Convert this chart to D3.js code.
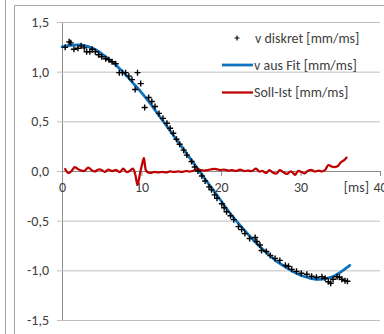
<!DOCTYPE html>
<html><head><meta charset="utf-8">
<script src="https://cdn.jsdelivr.net/npm/d3@7"></script>
<style>html,body{margin:0;padding:0;background:#fff;overflow:hidden}svg{display:block}</style>
</head><body>
<script>
// ---- data ----
const yTicks = [-1.5, -1.0, -0.5, 0.0, 0.5, 1.0, 1.5];
const xTicks = [0, 10, 20, 30, 40];
const xUnit = "[ms]";
const seriesNames = ["v diskret [mm/ms]", "v aus Fit [mm/ms]", "Soll-Ist [mm/ms]"];

// v diskret (measured points)
const tDiskret = [0.4,0.9,1.1,1.5,2.0,2.4,2.8,3.1,3.5,3.8,4.2,4.6,5.0,5.5,5.9,6.3,6.75,7.2,7.6,8.0,8.4,8.8,9.2,9.5,9.9,10.4,10.9,11.3,11.7,12.2,12.7,13.2,13.6,14.0,14.4,14.8,15.3,15.7,16.3,16.7,17.1,17.6,18.0,18.5,18.8,19.2,19.5,20.1,20.4,20.7,21.2,21.6,22.2,22.6,23.0,23.6,24.3,24.5,24.9,25.1,25.7,26.2,26.8,27.4,28.1,28.5,28.9,29.5,30.1,30.8,31.4,32.0,32.7,33.1,33.5,33.8,34.1,34.6,34.9,35.2,35.6,35.9];
const vDiskret = [1.245,1.30,1.29,1.225,1.235,1.26,1.24,1.20,1.20,1.225,1.20,1.17,1.15,1.13,1.12,1.10,1.08,0.99,0.99,0.99,0.955,0.92,0.82,0.99,0.88,0.64,0.74,0.70,0.65,0.58,0.53,0.48,0.43,0.38,0.32,0.27,0.21,0.16,0.095,0.04,0.0,-0.05,-0.10,-0.16,-0.19,-0.24,-0.275,-0.33,-0.37,-0.41,-0.45,-0.49,-0.56,-0.59,-0.63,-0.68,-0.67,-0.71,-0.745,-0.80,-0.81,-0.85,-0.88,-0.90,-0.95,-0.96,-0.99,-1.01,-1.03,-1.04,-1.06,-1.07,-1.065,-1.08,-1.115,-1.13,-1.09,-1.065,-1.07,-1.09,-1.105,-1.11];

// v aus Fit (fitted curve)
const tFit = [0,1,2,3,4,5,6,7,8,9,10,11,12,13,14,15,16,17,18,19,20,21,22,23,24,25,26,27,28,29,30,31,32,33,34,35,36.2];
const vFit = [1.25,1.265,1.27,1.26,1.23,1.18,1.12,1.05,0.97,0.88,0.79,0.69,0.58,0.47,0.36,0.25,0.14,0.03,-0.08,-0.19,-0.30,-0.41,-0.51,-0.60,-0.69,-0.77,-0.84,-0.91,-0.96,-1.01,-1.05,-1.075,-1.09,-1.085,-1.065,-1.02,-0.95];

// Soll-Ist (residual)
const tRes = [0.4,0.8,1.2,1.6,2.0,2.4,2.8,3.3,3.7,4.1,4.6,5.0,5.4,5.8,6.3,6.8,7.3,7.7,8.1,8.5,8.9,9.2,9.5,9.8,10.05,10.3,10.6,11.1,11.6,12.1,12.6,13.1,13.6,14.1,14.6,15.1,15.6,16.1,16.6,17.0,17.4,17.9,18.4,18.9,19.4,19.9,20.4,20.9,21.4,21.9,22.4,22.9,23.4,23.9,24.4,24.8,25.2,25.7,26.1,26.5,27.0,27.4,27.8,28.3,28.7,29.0,29.3,29.7,30.1,30.5,30.9,31.4,31.8,32.3,32.7,33.1,33.5,33.9,34.3,34.7,35.1,35.5,35.8];
const vRes = [0.02,-0.02,0.0,0.04,0.02,0.005,0.0,0.035,0.01,-0.005,0.015,0.01,-0.01,0.015,0.0,0.01,-0.01,0.025,-0.01,0.0,0.025,-0.03,-0.14,-0.03,0.06,0.13,0.0,-0.02,-0.01,-0.015,-0.01,-0.015,-0.005,-0.01,-0.005,-0.01,0.0,-0.005,0.005,0.02,0.01,0.005,0.01,0.02,0.02,0.01,0.015,0.005,0.01,0.0,0.015,0.0,0.005,0.0,0.025,-0.005,0.0,-0.02,0.01,-0.015,-0.025,0.01,-0.01,-0.03,-0.005,-0.015,-0.04,0.0,-0.01,-0.025,0.0,0.01,-0.005,0.005,-0.005,0.01,0.06,0.045,0.04,0.05,0.09,0.11,0.135];

// ---- drawing ----
const W = 384, H = 334;
const FONT = "Calibri, Carlito, 'Liberation Sans', Arial, sans-serif";
const TXT = "#404040";
const svg = d3.select("body").append("svg").attr("width", W).attr("height", H);

// outer frames
svg.append("line").attr("x1",5.5).attr("x2",5.5).attr("y1",0).attr("y2",H).attr("stroke","#a6a6a6");
svg.append("path").attr("d",`M14.5,${H}V5.5H${W}`).attr("fill","none").attr("stroke","#a6a6a6");

const x = d3.scaleLinear().domain([0,40]).range([62,380]);
const y = d3.scaleLinear().domain([-1.5,1.5]).range([320,22]);

const loc = d3.formatLocale({decimal:",", thousands:".", grouping:[3], currency:["","€"], minus:"-"});
const fmt = loc.format(".1f");

// y axis with gridlines
const gy = svg.append("g").attr("transform",`translate(${x(0)},0)`)
  .call(d3.axisLeft(y).tickValues(yTicks).tickFormat(fmt).tickSize(5).tickPadding(8));
gy.select(".domain").attr("stroke","#8c8c8c");
gy.selectAll(".tick line").attr("stroke","#bfbfbf");
gy.selectAll(".tick").append("line").attr("x1",0).attr("x2",x(40)-x(0)).attr("stroke","#bfbfbf");
gy.selectAll("text").attr("fill",TXT).style("font-family",FONT).style("font-size","14px");

// x axis at v=0
const gx = svg.append("g").attr("transform",`translate(0,${y(0)})`)
  .call(d3.axisBottom(x).tickValues(xTicks).tickFormat(d3.format("d")).tickSize(5).tickPadding(6).tickSizeOuter(0));
gx.select(".domain").attr("stroke","#8c8c8c");
gx.selectAll(".tick line").attr("stroke","#8c8c8c");
gx.selectAll("text").attr("fill",TXT).style("font-family",FONT).style("font-size","14px");
svg.append("text").attr("x",369).attr("y",y(0)+11).attr("dy","0.71em").attr("text-anchor","end")
  .attr("fill",TXT).style("font-family",FONT).style("font-size","14px").text(xUnit);

// fit curve
const fitData = tFit.map((t,i)=>[t,vFit[i]]);
svg.append("path").datum(fitData)
  .attr("d", d3.line().x(d=>x(d[0])).y(d=>y(d[1])).curve(d3.curveCatmullRom))
  .attr("fill","none").attr("stroke","#0e72bd").attr("stroke-width",2.75).attr("stroke-linecap","round");

// residual
const resData = tRes.map((t,i)=>[t,vRes[i]]);
svg.append("path").datum(resData)
  .attr("d", d3.line().x(d=>x(d[0])).y(d=>y(d[1])).curve(d3.curveCatmullRom))
  .attr("fill","none").attr("stroke","#c00000").attr("stroke-width",2.25).attr("stroke-linecap","round");

// discrete points
const plus = "M-3,0H3M0,-3V3";
const ptData = tDiskret.map((t,i)=>[t,vDiskret[i]]);
svg.append("g").selectAll("path").data(ptData).join("path")
  .attr("transform",d=>`translate(${x(d[0])},${y(d[1])})`)
  .attr("d",plus).attr("stroke","#000").attr("stroke-width",1.4).attr("fill","none");

// legend
const lg = svg.append("g");
lg.append("path").attr("transform","translate(237,38)").attr("d","M-2.5,0H2.5M0,-2.5V2.5").attr("stroke","#000").attr("stroke-width",1.2);
lg.append("line").attr("x1",222).attr("x2",253).attr("y1",65).attr("y2",65).attr("stroke","#0e72bd").attr("stroke-width",2.75);
lg.append("line").attr("x1",222).attr("x2",253).attr("y1",92.5).attr("y2",92.5).attr("stroke","#c00000").attr("stroke-width",2.25);
const ly = [38,65,92.5];
seriesNames.forEach((s,i)=>{
  lg.append("text").attr("x",i===0?255:254).attr("y",ly[i]).attr("dy","0.35em")
    .attr("fill",TXT).style("font-family",FONT).style("font-size","14px").text(s);
});
</script>
</body></html>
